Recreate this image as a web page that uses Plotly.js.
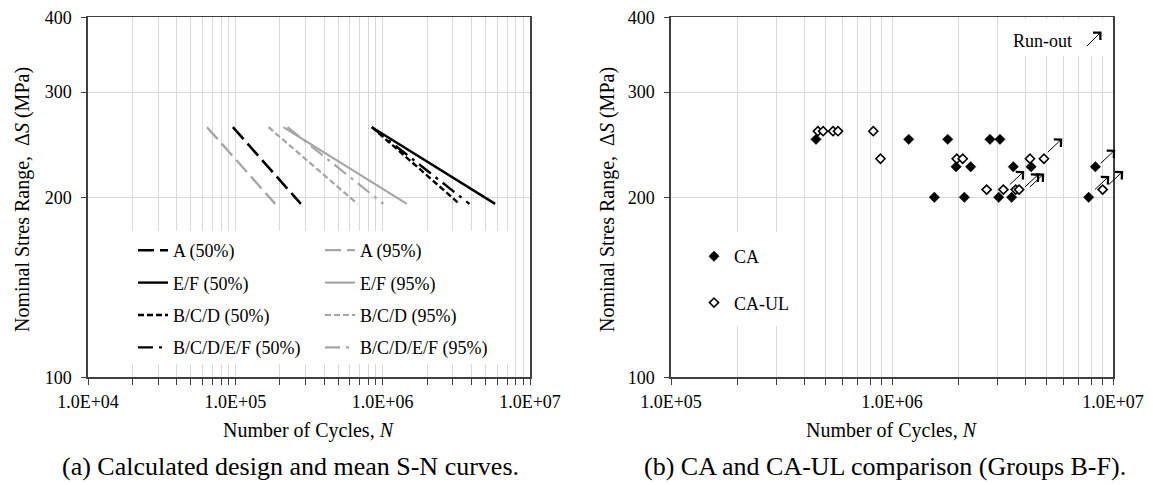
<!DOCTYPE html>
<html><head><meta charset="utf-8">
<script src="https://cdn.plot.ly/plotly-3.0.1.min.js"></script>
<style>html,body{margin:0;padding:0;background:#fff;}#chart{width:1153px;height:485px;}</style>
</head><body><div id="chart"></div>
<script>
// ---------- Panel (a): S-N curves (stress at start / end of each line) ----------
const curveStress = [262, 195];
const cycA50     = [96300, 278700];
const cycA95     = [64200, 186600];
const cycEF50    = [845000, 5800000];
const cycEF95    = [212000, 1459000];
const cycBCD50   = [845000, 3320000];
const cycBCD95   = [168000, 675000];
const cycBCDEF50 = [845000, 3880000];
const cycBCDEF95 = [226000, 1012000];
const curveNames = ['A (50%)','A (95%)','E/F (50%)','E/F (95%)','B/C/D (50%)','B/C/D (95%)','B/C/D/E/F (50%)','B/C/D/E/F (95%)'];

// ---------- Panel (b): test data ----------
const caCycles = [453000, 1190000, 1555000, 1787000, 1950000, 2125000, 2270000, 2775000, 3040000, 3080000, 3480000, 3540000, 4260000, 7760000, 8320000];
const caStress = [250, 250, 200, 250, 225, 200, 225, 250, 200, 250, 200, 225, 225, 200, 225];
const ulCycles = [462000, 488000, 541000, 570000, 823000, 887000, 1963000, 2090000, 2680000, 3190000, 3630000, 3760000, 4210000, 4870000, 8980000];
const ulStress = [258, 258, 258, 258, 258, 232, 232, 232, 206, 206, 206, 206, 232, 232, 206];
// run-out arrows (start of each arrow)
const runoutCycles = [5070000, 8800000, 8270000, 9560000, 3410000, 3990000, 4200000];
const runoutStress = [238, 228, 206, 210, 210, 208, 208];

// ---------- tick labels ----------
const xDecadesA = [1e4, 1e5, 1e6, 1e7];
const xLabelsA  = ['1.0E+04','1.0E+05','1.0E+06','1.0E+07'];
const xDecadesB = [1e5, 1e6, 1e7];
const xLabelsB  = ['1.0E+05','1.0E+06','1.0E+07'];
const yTickVals = [100, 200, 300, 400];
const yTickText = ['100','200','300','400'];

const FONT = "'Liberation Serif', 'Times New Roman', serif";
const BLACK = '#000000', GREY = '#a6a6a6';
const W = 1153, H = 485;
const px = v => v / W, py = v => 1 - v / H;

function logTicks(decades, labels) {
  const vals = [], text = [];
  decades.forEach((d, i) => {
    if (i < decades.length - 1) {
      for (let m = 1; m <= 9; m++) { vals.push(d * m); text.push(m === 1 ? labels[i] : ''); }
    } else { vals.push(d); text.push(labels[i]); }
  });
  return {vals, text};
}
const tA = logTicks(xDecadesA, xLabelsA);
const tB = logTicks(xDecadesB, xLabelsB);

const curveCycles = [cycA50, cycA95, cycEF50, cycEF95, cycBCD50, cycBCD95, cycBCDEF50, cycBCDEF95];
const curveStyle = [
  {color: BLACK, dash: '16px,6px', width: 2.6, legend: 'legend'},
  {color: GREY,  dash: '16px,6px', width: 2.3, legend: 'legend2'},
  {color: BLACK, dash: 'solid',    width: 2.4, legend: 'legend'},
  {color: GREY,  dash: 'solid',    width: 2.2, legend: 'legend2'},
  {color: BLACK, dash: '6px,3px',  width: 2.4, legend: 'legend'},
  {color: GREY,  dash: '6px,3px',  width: 2.2, legend: 'legend2'},
  {color: BLACK, dash: '15px,6px,3px,6px', width: 2.4, legend: 'legend'},
  {color: GREY,  dash: '15px,6px,3px,6px', width: 2.2, legend: 'legend2'}
];

const traces = curveCycles.map((c, i) => ({
  type: 'scatter', mode: 'lines', x: c, y: curveStress, xaxis: 'x', yaxis: 'y',
  name: curveNames[i], legend: curveStyle[i].legend, legendgroup: 'g' + i,
  line: {color: curveStyle[i].color, dash: curveStyle[i].dash, width: curveStyle[i].width}
}));

traces.push({
  type: 'scatter', mode: 'markers', x: caCycles, y: caStress, xaxis: 'x2', yaxis: 'y2',
  name: 'CA', legend: 'legend3', legendgroup: 'ca',
  marker: {symbol: 'diamond', size: 8, color: BLACK, line: {width: 0.5, color: BLACK}}
});
traces.push({
  type: 'scatter', mode: 'markers', x: ulCycles, y: ulStress, xaxis: 'x2', yaxis: 'y2',
  name: 'CA-UL', legend: 'legend3', legendgroup: 'ul',
  marker: {symbol: 'diamond', size: 7, color: '#ffffff', line: {width: 1.6, color: BLACK}}
});

const axisCommon = {
  type: 'log', showline: true, mirror: true, linecolor: '#404040', linewidth: 1.6,
  showgrid: true, gridcolor: '#d9d9d9', gridwidth: 1, zeroline: false,
  ticks: 'outside', tickcolor: '#404040', tickwidth: 1,
  tickfont: {family: FONT, size: 18, color: BLACK}, tickmode: 'array'
};
const yDomain = [1 - 377.3 / H, 1 - 17.3 / H];

const legendCommon = {
  xanchor: 'left', yanchor: 'top', bgcolor: 'rgba(0,0,0,0)', borderwidth: 0,
  font: {family: FONT, size: 18, color: BLACK}, itemwidth: 30
};

const arrowStyle = {showarrow: true, arrowside: 'start', startarrowhead: 4, startarrowsize: 2,
  arrowwidth: 1, arrowcolor: BLACK};

const annotations = [
  // axis titles
  {text: 'Number of Cycles, <i>N</i>', x: px(309), y: py(430), xref: 'paper', yref: 'paper', showarrow: false, xanchor: 'center', yanchor: 'middle', font: {family: FONT, size: 20, color: BLACK}},
  {text: 'Number of Cycles, <i>N</i>', x: px(892), y: py(430), xref: 'paper', yref: 'paper', showarrow: false, xanchor: 'center', yanchor: 'middle', font: {family: FONT, size: 20, color: BLACK}},
  {text: 'Nominal Stres Range,\u00a0 Δ<i>S</i> (MPa)', textangle: -90, x: px(22), y: py(200), xref: 'paper', yref: 'paper', showarrow: false, xanchor: 'center', yanchor: 'middle', font: {family: FONT, size: 20, color: BLACK}},
  {text: 'Nominal Stres Range,\u00a0 Δ<i>S</i> (MPa)', textangle: -90, x: px(607), y: py(200), xref: 'paper', yref: 'paper', showarrow: false, xanchor: 'center', yanchor: 'middle', font: {family: FONT, size: 20, color: BLACK}},
  // captions
  {text: '(a) Calculated design and mean S-N curves.', x: px(290), y: py(466), xref: 'paper', yref: 'paper', showarrow: false, xanchor: 'center', yanchor: 'middle', font: {family: FONT, size: 26, color: BLACK}},
  {text: '(b) CA and CA-UL comparison (Groups B-F).', x: px(885), y: py(466), xref: 'paper', yref: 'paper', showarrow: false, xanchor: 'center', yanchor: 'middle', font: {family: FONT, size: 26, color: BLACK}},
  // run-out key
  {text: 'Run-out', x: px(1042), y: py(41), xref: 'paper', yref: 'paper', showarrow: false, xanchor: 'center', yanchor: 'middle', font: {family: FONT, size: 18, color: BLACK}},
  Object.assign({text: '', x: px(1087), y: py(46), xref: 'paper', yref: 'paper', ax: 16, ay: -16}, arrowStyle)
];
runoutCycles.forEach((n, i) => {
  annotations.push(Object.assign({text: '', x: Math.log10(n), y: Math.log10(runoutStress[i]),
    xref: 'x2', yref: 'y2', ax: 16, ay: -15}, arrowStyle));
});

const shapes = [
  {type: 'rect', xref: 'paper', yref: 'paper', x0: px(116), x1: px(514), y0: py(364), y1: py(231), fillcolor: '#ffffff', line: {width: 0}, layer: 'above'},
  {type: 'rect', xref: 'paper', yref: 'paper', x0: px(673), x1: px(792), y0: py(326), y1: py(232), fillcolor: '#ffffff', line: {width: 0}, layer: 'above'},
  {type: 'rect', xref: 'paper', yref: 'paper', x0: px(1004), x1: px(1111), y0: py(56), y1: py(19), fillcolor: '#ffffff', line: {width: 0}, layer: 'above'}
];

const layout = {
  width: W, height: H, margin: {l: 0, r: 0, t: 0, b: 0},
  paper_bgcolor: '#ffffff', plot_bgcolor: '#ffffff',
  font: {family: FONT, color: BLACK},
  xaxis: Object.assign({}, axisCommon, {domain: [88 / W, 530 / W], range: [4, 7], anchor: 'y',
    tickvals: tA.vals, ticktext: tA.text, ticklen: 6, ticklabelstandoff: 1}),
  yaxis: Object.assign({}, axisCommon, {domain: yDomain, range: [2, Math.log10(400)], anchor: 'x',
    tickvals: yTickVals, ticktext: yTickText, ticklen: 5, ticklabelstandoff: 6}),
  xaxis2: Object.assign({}, axisCommon, {domain: [671 / W, 1113 / W], range: [5, 7], anchor: 'y2',
    tickvals: tB.vals, ticktext: tB.text, ticklen: 6, ticklabelstandoff: 1}),
  yaxis2: Object.assign({}, axisCommon, {domain: yDomain, range: [2, Math.log10(400)], anchor: 'x2',
    tickvals: yTickVals, ticktext: yTickText, ticklen: 5, ticklabelstandoff: 6}),
  legend: Object.assign({}, legendCommon, {x: px(133), y: py(232), tracegroupgap: 6}),
  legend2: Object.assign({}, legendCommon, {x: px(320), y: py(232), tracegroupgap: 6}),
  legend3: Object.assign({}, legendCommon, {x: px(694), y: py(238), tracegroupgap: 20}),
  annotations: annotations,
  shapes: shapes
};

Plotly.newPlot('chart', traces, layout, {displayModeBar: false, staticPlot: true});
</script>
</body></html>
